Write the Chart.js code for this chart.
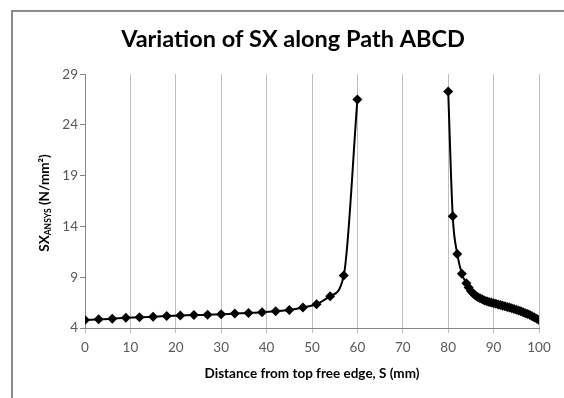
<!DOCTYPE html>
<html>
<head>
<meta charset="utf-8">
<script src="https://cdn.jsdelivr.net/npm/chart.js@4"></script>
<style>
  html, body { margin: 0; padding: 0; background: #fff; }
  #wrap { position: relative; width: 564px; height: 398px; overflow: hidden; }
  #frame { position: absolute; left: 11px; top: 10px; width: 600px; height: 500px;
           border-top: 2px solid #8c8c8c; border-left: 2px solid #8c8c8c; pointer-events: none; }
  #ylabel { position: absolute; left: 44px; top: 203px; transform: translate(-50%, -50%) rotate(-90deg);
            font: bold 13.5px Lato, "Open Sans", sans-serif; color: #000; white-space: nowrap; }
  #ylabel sub { font-size: 8.5px; vertical-align: -2px; }
  canvas { position: absolute; left: 0; top: 0; }
</style>
</head>
<body>
<div id="wrap">
  <canvas id="c" width="564" height="398"></canvas>
  <div id="frame"></div>
  <div id="ylabel">SX<sub>ANSYS</sub> (N/mm²)</div>
</div>
<script>
// Segment A: top free edge to 60 mm
const xA = [0, 3, 6, 9, 12, 15, 18, 21, 24, 27, 30, 33, 36, 39, 42, 45, 48, 51, 54, 57, 60];
const yA = [4.78, 4.85, 4.92, 5.02, 5.05, 5.12, 5.18, 5.22, 5.28, 5.30, 5.35, 5.42, 5.48, 5.55, 5.65, 5.78, 6.02, 6.34, 7.13, 9.17, 26.5];
// Segment B: 80 mm to 100 mm
const xB = [80, 81, 82, 83, 84, 84.5, 85, 85.5, 86, 86.5, 87, 87.5, 88, 88.5, 89, 89.5, 90, 90.5, 91, 91.5, 92, 92.5, 93, 93.5, 94, 94.5, 95, 95.5, 96, 96.5, 97, 97.5, 98, 98.5, 99, 99.5, 100];
const yB = [27.3, 15.0, 11.3, 9.35, 8.4, 8.0, 7.65, 7.4, 7.2, 7.05, 6.93, 6.82, 6.72, 6.63, 6.56, 6.5, 6.44, 6.38, 6.32, 6.27, 6.2, 6.14, 6.08, 6.02, 5.95, 5.88, 5.8, 5.72, 5.64, 5.55, 5.46, 5.37, 5.27, 5.16, 5.04, 4.92, 4.8];
const xTicks = [0, 10, 20, 30, 40, 50, 60, 70, 80, 90, 100];
const yTicks = [4, 9, 14, 19, 24, 29];

const titleText = 'Variation of SX along Path ABCD';
const xTitle = 'Distance from top free edge, S (mm)';

const FONT = 'Lato, "Open Sans", sans-serif';
const toPts = (xs, ys) => xs.map((x, i) => ({ x: x, y: ys[i] }));

const seriesStyle = {
  borderColor: '#000',
  backgroundColor: '#000',
  borderWidth: 2,
  pointStyle: 'rectRot',
  pointRadius: 5,
  pointHoverRadius: 5,
  pointBorderWidth: 0,
  cubicInterpolationMode: 'monotone',
  fill: false
};

new Chart(document.getElementById('c'), {
  type: 'line',
  data: {
    datasets: [
      Object.assign({ label: 'A', data: toPts(xA, yA) }, seriesStyle),
      Object.assign({ label: 'B', data: toPts(xB, yB) }, seriesStyle)
    ]
  },
  options: {
    responsive: false,
    animation: false,
    layout: { padding: { left: 47, right: 25, top: 0, bottom: 0 } },
    plugins: {
      legend: { display: false },
      tooltip: { enabled: false },
      title: {
        display: true,
        text: titleText,
        color: '#000',
        font: { family: FONT, size: 23.5, weight: 'bold' },
        padding: { top: 25, bottom: 21 }
      }
    },
    scales: {
      x: {
        type: 'linear',
        min: 0, max: 100,
        afterBuildTicks: s => { s.ticks = xTicks.map(v => ({ value: v })); },
        afterFit: s => { s.height = 70; },
        ticks: { color: '#595959', font: { family: FONT, size: 13.5 }, padding: 7, maxRotation: 0 },
        grid: { color: '#bfbfbf', lineWidth: 1, tickLength: 5, drawTicks: true },
        border: { color: '#868686', width: 1 },
        title: { display: true, text: xTitle, color: '#000',
                 font: { family: FONT, size: 13.5, weight: 'bold' }, padding: { top: 4, bottom: 16 } }
      },
      y: {
        type: 'linear',
        min: 4, max: 29,
        afterBuildTicks: s => { s.ticks = yTicks.map(v => ({ value: v })); },
        afterFit: s => { s.width = 38; },
        ticks: { color: '#595959', font: { family: FONT, size: 13.5 }, padding: 2 },
        grid: { drawOnChartArea: false, drawTicks: true, tickLength: 5, color: '#868686' },
        border: { color: '#868686', width: 1 }
      }
    }
  }
});
</script>
</body>
</html>
